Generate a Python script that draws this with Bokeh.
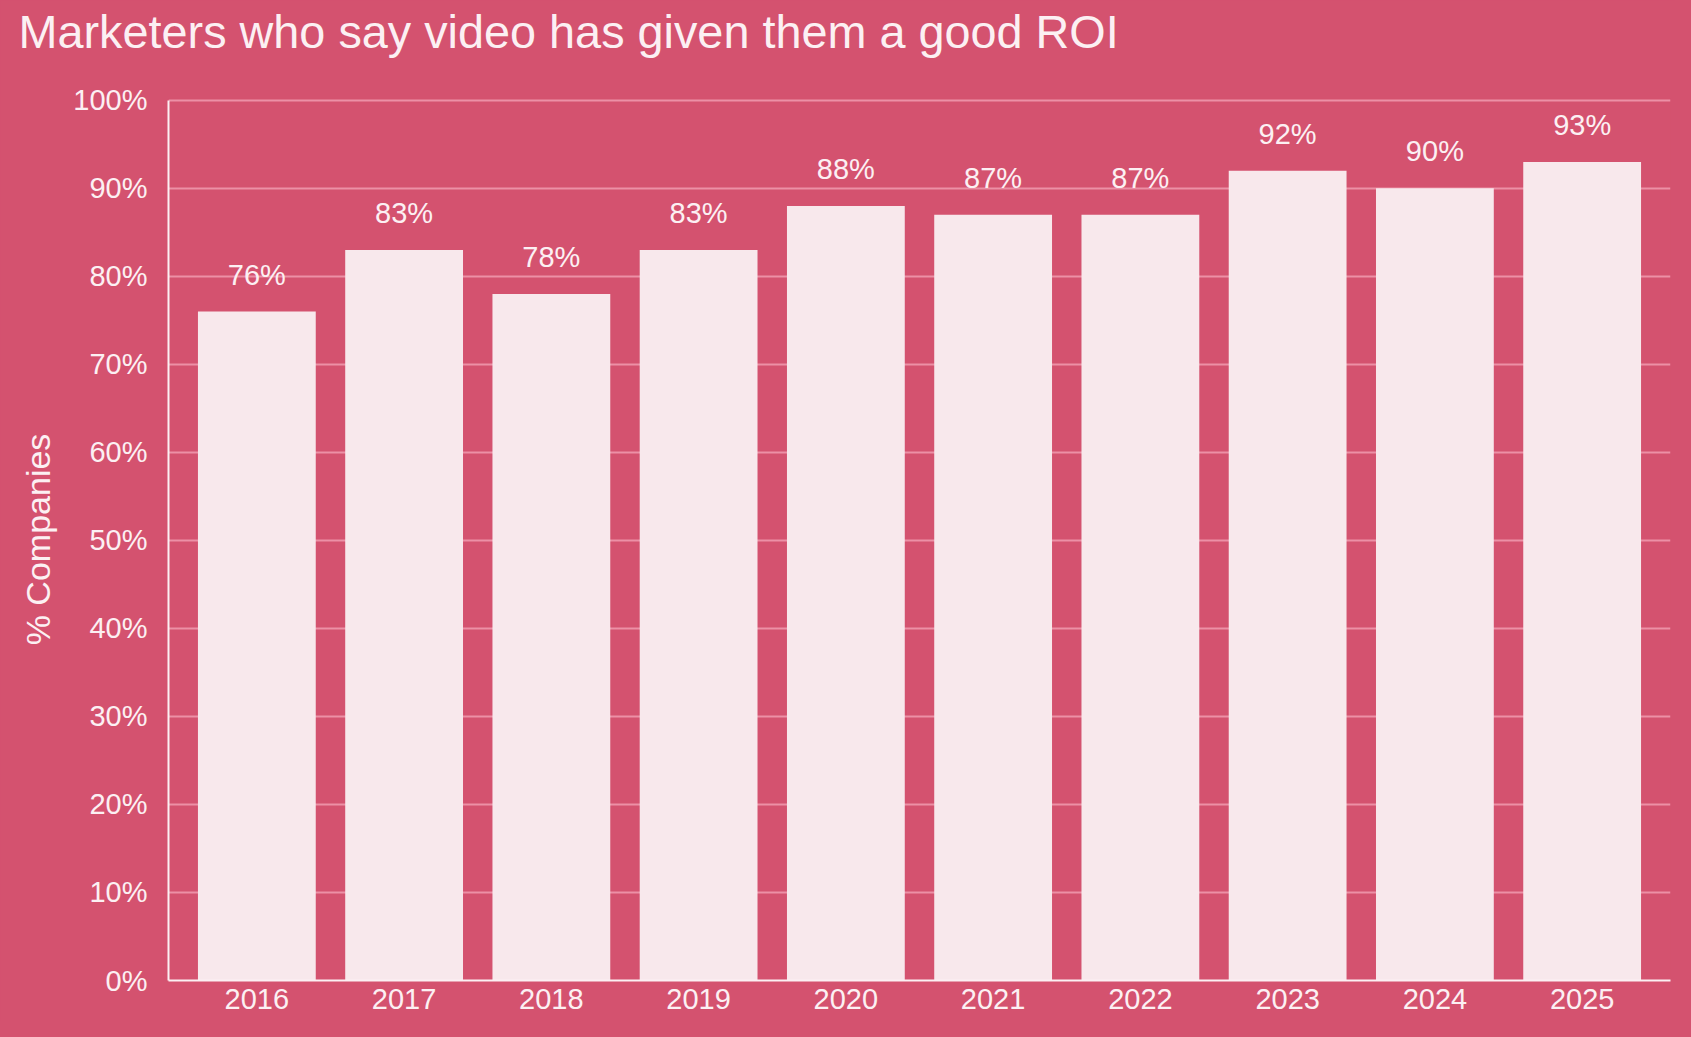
from bokeh.plotting import figure
from bokeh.models import ColumnDataSource, FactorRange, Range1d, FixedTicker, Title
from bokeh.core.properties import value
from bokeh.embed import file_html
from bokeh.resources import INLINE

title_text = "Marketers who say video has given them a good ROI"
years = ["2016", "2017", "2018", "2019", "2020", "2021", "2022", "2023", "2024", "2025"]
pct = [76, 83, 78, 83, 88, 87, 87, 92, 90, 93]
y_ticks = [0, 10, 20, 30, 40, 50, 60, 70, 80, 90, 100]
y_tick_labels = {t: f"{t}%" for t in y_ticks}

BG = "#D4526F"
BAR = "#F8E8EC"
GRID = "#EC90A6"
TXT = "#FCF0F3"
FONT = "Liberation Sans"

src = ColumnDataSource(dict(year=years, pct=pct, lbl=[f"{v}%" for v in pct]))

p = figure(
    width=1675, height=1021,
    x_range=FactorRange(factors=years, range_padding=0.1, range_padding_units="absolute"),
    y_range=Range1d(0, 100.2),
    output_backend="svg", toolbar_location=None,
    background_fill_color=BG, border_fill_color=BG,
    min_border_left=168, min_border_right=5, min_border_bottom=41, min_border_top=98,
    outline_line_color=None,
)

# blank spacer panel between the plot frame and the title
p.add_layout(Title(text=" ", text_font_size="1px", text_color=BG, standoff=36), "above")
p.add_layout(Title(text=title_text, text_font=FONT, text_font_size="46.8px",
                   text_font_style="normal", text_color=TXT, align="left",
                   offset=-150, standoff=4), "above")

p.vbar(x="year", top="pct", width=0.8, source=src, fill_color=BAR, line_color=None)
p.text(x="year", y="pct", text="lbl", source=src, text_align="center",
       text_baseline="alphabetic", y_offset=-37,
       text_font=value(FONT), text_font_size="29px", text_color=TXT)

p.xgrid.grid_line_color = None
p.ygrid.grid_line_color = GRID
p.ygrid.grid_line_width = 2
p.yaxis.ticker = FixedTicker(ticks=y_ticks)
p.yaxis.major_label_overrides = y_tick_labels
p.yaxis.bounds = (0, 100)

for ax in (p.xaxis[0], p.yaxis[0]):
    ax.axis_line_color = TXT
    ax.axis_line_width = 2
    ax.major_tick_line_color = None
    ax.minor_tick_line_color = None
    ax.major_tick_out = 0
    ax.major_tick_in = 0
    ax.major_label_text_font = FONT
    ax.major_label_text_font_size = "29px"
    ax.major_label_text_color = TXT

p.xaxis.major_label_standoff = 8
p.yaxis.major_label_standoff = 21
p.yaxis.axis_label = "% Companies"
p.yaxis.axis_label_text_font = FONT
p.yaxis.axis_label_text_font_size = "34px"
p.yaxis.axis_label_text_font_style = "normal"
p.yaxis.axis_label_text_color = TXT
p.yaxis.axis_label_standoff = 13

html = file_html(p, INLINE)
html = html.replace("<head>", "<head><style>body{background:%s;}</style>" % BG, 1)
open("out.html", "w").write(html)
